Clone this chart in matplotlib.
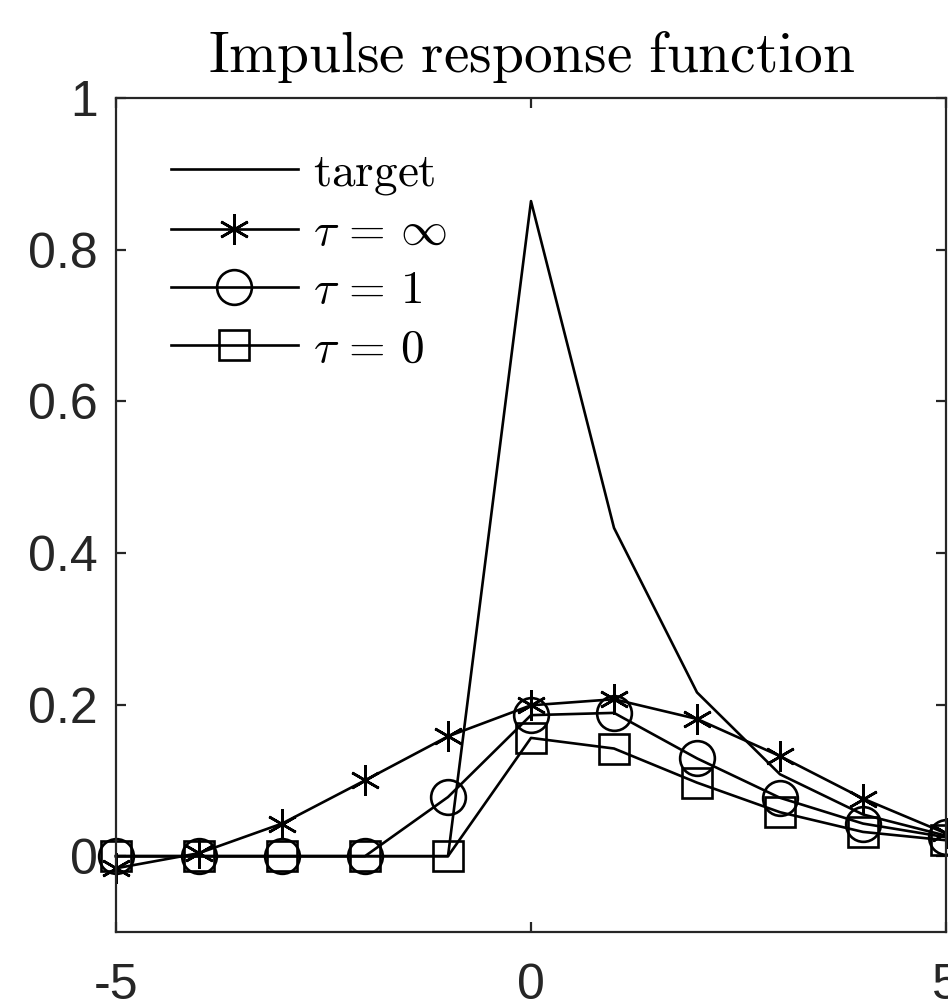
import numpy as np
import matplotlib
matplotlib.use('Agg')
import matplotlib.pyplot as plt

plt.rcParams['mathtext.fontset'] = 'cm'
plt.rcParams['font.family'] = ['Liberation Sans', 'DejaVu Sans']

# lags
lags = [-5, -4, -3, -2, -1, 0, 1, 2, 3, 4, 5]

# values
target = [0, 0, 0, 0, 0, 0.864, 0.433, 0.216, 0.108, 0.055, 0.027]
tau_inf = [-0.016, 0.004, 0.043, 0.100, 0.158, 0.199, 0.207, 0.181, 0.132, 0.076, 0.030]
tau_one = [0, 0, 0, 0, 0.078, 0.186, 0.189, 0.129, 0.077, 0.043, 0.025]
tau_zero = [0, 0, 0, 0, 0, 0.156, 0.142, 0.097, 0.058, 0.032, 0.021]

yticks = [0, 0.2, 0.4, 0.6, 0.8, 1]
ytick_labels = ['0', '0.2', '0.4', '0.6', '0.8', '1']
xticks = [-5, 0, 5]

fig = plt.figure(figsize=(9.48, 10.01), dpi=100)
ax = fig.add_axes([116 / 948, 69 / 1001, 830 / 948, 834 / 1001])

lw = 1.9
ax.plot(lags, target, color='black', lw=lw, label=r'$\mathrm{target}$', clip_on=False)
ax.plot(lags, tau_inf, color='black', lw=lw, marker=(6, 2, 0), ms=22, mew=lw,
        label=r'$\tau\,=\,\infty$', clip_on=False)
ax.plot(lags, tau_one, color='black', lw=lw, marker='o', ms=25, mew=lw, mfc='none',
        label=r'$\tau\,=\,1$', clip_on=False)
ax.plot(lags, tau_zero, color='black', lw=lw, marker='s', ms=21, mew=lw, mfc='none',
        label=r'$\tau\,=\,0$', clip_on=False)

ax.set_xlim(-5, 5)
ax.set_ylim(-0.1, 1)
ax.set_xticks(xticks)
ax.set_xticklabels([str(t) for t in xticks])
ax.set_yticks(yticks)
ax.set_yticklabels(ytick_labels)

axis_col = '#262626'
for s in ax.spines.values():
    s.set_color(axis_col)
    s.set_linewidth(1.6)
ax.tick_params(direction='in', length=7, width=1.6, color=axis_col, labelcolor=axis_col,
               labelsize=36, top=True, right=True)
ax.tick_params(axis='x', pad=22)
ax.tick_params(axis='y', pad=13)

ax.set_title(r'$\mathrm{Impulse\ response\ function}$', fontsize=41.3, pad=19)

ax.legend(loc='upper left', bbox_to_anchor=(0.066, 0.936), frameon=False, fontsize=34,
          handlelength=2.69, handletextpad=0.33, labelspacing=0.30, numpoints=1,
          borderaxespad=0, borderpad=0)

fig.savefig('out.png', dpi=100)
